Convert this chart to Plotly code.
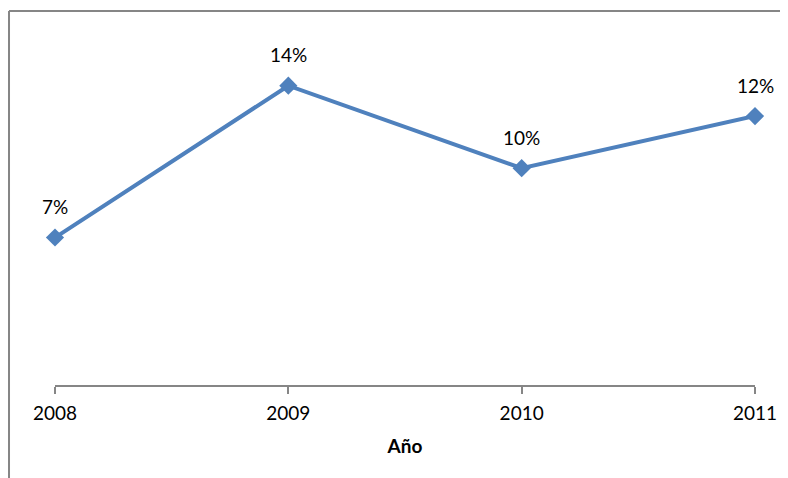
import plotly.graph_objects as go

years = [2008, 2009, 2010, 2011]
values = [0.068, 0.138, 0.100, 0.124]
x_title = "Año"

LINE_COLOR = "#4F81BD"
GREY = "#868686"
FONT = "Lato, 'Open Sans', sans-serif"

fig = go.Figure()
fig.add_trace(go.Scatter(
    x=years, y=values, mode="lines+markers",
    line=dict(color=LINE_COLOR, width=4),
    marker=dict(symbol="diamond", size=14, color=LINE_COLOR),
    cliponaxis=False, hoverinfo="skip", showlegend=False,
))

for xv, yv in zip(years, values):
    fig.add_annotation(x=xv, y=yv, text=f"{yv:.0%}", showarrow=False,
                       yshift=31, font=dict(family=FONT, size=19, color="#000"))

# chart-area outline (left and top edges visible)
fig.add_shape(type="line", xref="paper", yref="paper",
              x0=-0.0657, x1=-0.0657, y0=-1, y1=1.0778,
              line=dict(color=GREY, width=2))
fig.add_shape(type="line", xref="paper", yref="paper",
              x0=-0.0657, x1=2, y0=1.0778, y1=1.0778,
              line=dict(color=GREY, width=2))

fig.update_layout(
    width=780, height=470,
    margin=dict(l=47, r=33, t=30, b=93),
    paper_bgcolor="white", plot_bgcolor="white",
    font=dict(family=FONT, size=19, color="#000"),
    xaxis=dict(range=[2008, 2011], tickvals=years, ticktext=[str(y) for y in years],
               showgrid=False, zeroline=False, showline=True, linecolor=GREY, linewidth=1.5,
               ticks="outside", ticklen=7, tickcolor=GREY, tickwidth=1.5,
               ticklabelstandoff=3,
               title=dict(text=f"<b>{x_title}</b>", standoff=17, font=dict(size=19))),
    yaxis=dict(range=[0, 0.16], visible=False),
)

fig.write_html("out.html", config={"displayModeBar": False})
